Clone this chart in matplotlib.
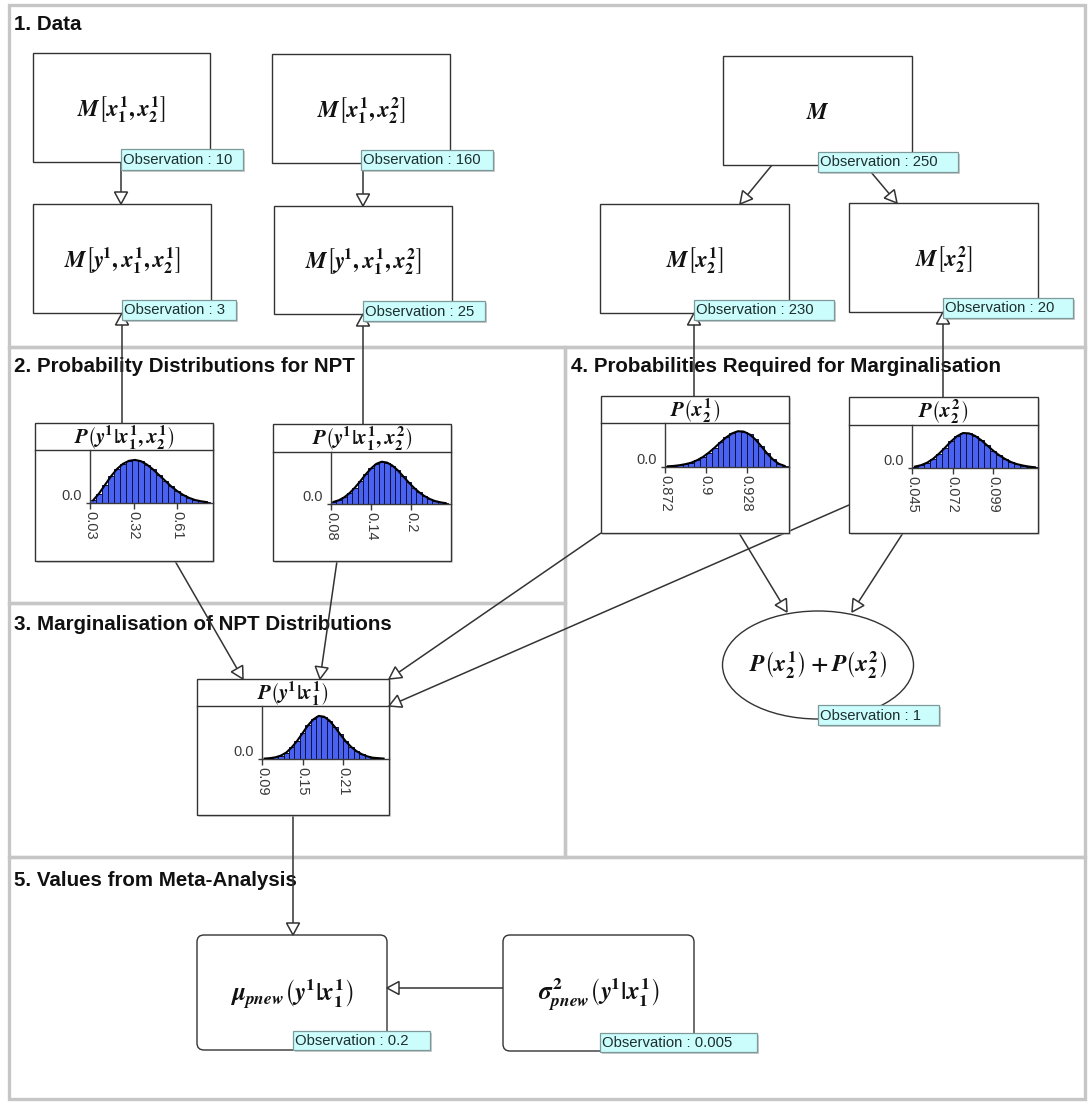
import matplotlib
matplotlib.use("Agg")
import matplotlib.pyplot as plt
from matplotlib.patches import Rectangle, FancyBboxPatch, Ellipse, Polygon
import math

# ---------------- data ----------------
section_titles = ["1. Data", "2. Probability Distributions for NPT",
                  "3. Marginalisation of NPT Distributions",
                  "4. Probabilities Required for Marginalisation",
                  "5. Values from Meta-Analysis"]

count_labels = [r"$M\left[x_1^1,x_2^1\right]$", r"$M\left[y^{\!1},x_1^1,x_2^1\right]$",
                r"$M\left[x_1^1,x_2^2\right]$", r"$M\left[y^{\!1},x_1^1,x_2^2\right]$",
                r"$M$", r"$M\left[x_2^1\right]$", r"$M\left[x_2^2\right]$"]
count_obs = ["10", "3", "160", "25", "250", "230", "20"]

dist_labels = [r"$P\left(y^{\!1}|x_1^1,x_2^1\right)$", r"$P\left(y^{\!1}|x_1^1,x_2^2\right)$",
               r"$P\left(x_2^1\right)$", r"$P\left(x_2^2\right)$",
               r"$P\left(y^{\!1}|x_1^1\right)$"]

sum_label = r"$P\left(x_2^1\right)+P\left(x_2^2\right)$"
sum_obs = "1"
meta_labels = [r"$\mu_{pnew}\left(y^{\!1}|x_1^1\right)$", r"$\sigma_{pnew}^2\left(y^{\!1}|x_1^1\right)$"]
meta_obs = ["0.2", "0.005"]

# distribution 1: P(y1 | x1^1, x2^1)
d1_centers = [0.05, 0.09, 0.13, 0.17, 0.21, 0.25, 0.29, 0.33, 0.37, 0.41, 0.45,
              0.49, 0.53, 0.57, 0.61, 0.65, 0.69, 0.73, 0.77, 0.81]
d1_heights = [0.06, 0.22, 0.42, 0.62, 0.79, 0.91, 0.98, 1.00, 0.97, 0.89, 0.78,
              0.65, 0.52, 0.39, 0.28, 0.19, 0.12, 0.07, 0.04, 0.02]
d1_ticks = [0.03, 0.32, 0.61]
d1_ticklabels = ["0.03", "0.32", "0.61"]
d1_xmax = 0.85

# distribution 2: P(y1 | x1^1, x2^2)
d2_centers = [0.084, 0.092, 0.100, 0.108, 0.116, 0.124, 0.132, 0.140, 0.148, 0.156, 0.164,
              0.172, 0.180, 0.188, 0.196, 0.204, 0.212, 0.220, 0.228, 0.236, 0.244, 0.252]
d2_heights = [0.05, 0.09, 0.16, 0.26, 0.39, 0.54, 0.70, 0.84, 0.95, 1.00, 0.98,
              0.91, 0.80, 0.66, 0.52, 0.39, 0.28, 0.19, 0.12, 0.07, 0.04, 0.02]
d2_ticks = [0.08, 0.14, 0.2]
d2_ticklabels = ["0.08", "0.14", "0.2"]
d2_xmax = 0.26

# distribution 3: P(x2^1)
d3_centers = [0.874, 0.878, 0.882, 0.886, 0.890, 0.894, 0.898, 0.902, 0.906, 0.910, 0.914,
              0.918, 0.922, 0.926, 0.930, 0.934, 0.938, 0.942, 0.946, 0.950, 0.954]
d3_heights = [0.02, 0.03, 0.05, 0.08, 0.12, 0.19, 0.28, 0.40, 0.54, 0.69, 0.83,
              0.94, 1.00, 0.99, 0.91, 0.77, 0.58, 0.38, 0.21, 0.09, 0.03]
d3_ticks = [0.872, 0.9, 0.928]
d3_ticklabels = ["0.872", "0.9", "0.928"]
d3_xmax = 0.957

# distribution 4: P(x2^2)
d4_centers = [0.047, 0.051, 0.055, 0.059, 0.063, 0.067, 0.071, 0.075, 0.079, 0.083, 0.087,
              0.091, 0.095, 0.099, 0.103, 0.107, 0.111, 0.115, 0.119, 0.123, 0.127]
d4_heights = [0.04, 0.08, 0.15, 0.26, 0.41, 0.58, 0.76, 0.91, 1.00, 0.99, 0.92,
              0.80, 0.65, 0.50, 0.37, 0.26, 0.17, 0.11, 0.07, 0.04, 0.02]
d4_ticks = [0.045, 0.072, 0.099]
d4_ticklabels = ["0.045", "0.072", "0.099"]
d4_xmax = 0.129

# distribution 5: P(y1 | x1^1)
d5_centers = [0.094, 0.102, 0.110, 0.118, 0.126, 0.134, 0.142, 0.150, 0.158, 0.166, 0.174,
              0.182, 0.190, 0.198, 0.206, 0.214, 0.222, 0.230, 0.238, 0.246, 0.254, 0.262, 0.270]
d5_heights = [0.01, 0.02, 0.04, 0.08, 0.15, 0.27, 0.42, 0.60, 0.78, 0.92, 1.00,
              0.98, 0.89, 0.74, 0.57, 0.41, 0.28, 0.18, 0.11, 0.06, 0.03, 0.02, 0.01]
d5_ticks = [0.09, 0.15, 0.21]
d5_ticklabels = ["0.09", "0.15", "0.21"]
d5_xmax = 0.278

# ---------------- layout (pixels) ----------------
W, H = 1089, 1102
panels = [(9, 5, 1085, 347), (9, 347, 565, 603), (9, 603, 565, 857),
          (565, 347, 1085, 857), (9, 857, 1085, 1099)]
title_pos = [(14, 25), (14, 367), (14, 624), (571, 367), (14, 880)]

count_boxes = [(33, 53, 210, 162), (33, 204, 211, 313), (272, 54, 450, 163),
               (274, 206, 452, 314), (723, 56, 912, 165), (600, 204, 789, 313),
               (849, 203, 1038, 312)]
count_obs_boxes = [(121, 149, 243, 170), (122, 300, 236, 320), (361, 150, 493, 170),
                   (363, 301, 485, 321), (818, 152, 958, 172), (694, 300, 834, 320),
                   (943, 298, 1073, 318)]
# x0, y0, x1, y1, title separator, axis x, baseline y
dist_boxes = [(35, 423, 213, 561, 450, 90, 503), (273, 424, 451, 561, 452, 331, 504),
              (601, 396, 789, 533, 423, 665, 467), (849, 397, 1038, 533, 425, 912, 468),
              (197, 679, 389, 815, 706, 262, 759)]
ellipse_geom = (818, 665, 191, 108)
ellipse_obs_box = (818, 705, 939, 725)
meta_boxes = [(197, 935, 387, 1050), (503, 935, 694, 1051)]
meta_obs_boxes = [(293, 1031, 430, 1050), (600, 1033, 757, 1052)]

arrows = [(121, 162, 121, 204), (363, 163, 363, 206), (772, 165, 740, 204),
          (865, 165, 897, 203), (122, 423, 122, 313), (363, 424, 363, 314),
          (694, 396, 694, 313), (943, 397, 943, 312), (175, 561, 243, 679),
          (337, 561, 320, 679), (601, 533, 389, 679), (849, 505, 389, 706),
          (739, 533, 787, 612), (903, 533, 852, 612), (293, 815, 293, 935),
          (503, 988, 387, 988)]

# ---------------- styles ----------------
plt.rcParams['font.family'] = ['Liberation Sans', 'DejaVu Sans']
plt.rcParams['mathtext.fontset'] = 'custom'
plt.rcParams['mathtext.it'] = 'STIXGeneral:italic:bold'
plt.rcParams['mathtext.rm'] = 'STIXGeneral:bold'
plt.rcParams['mathtext.bf'] = 'STIXGeneral:bold'
plt.rcParams['mathtext.fallback'] = 'stix'

LINE = '#333333'
PANEL = '#c6c6c6'
OBS_FILL = '#ccfdfd'
OBS_EDGE = '#7d9a9a'
BAR = '#4a62f2'

fig = plt.figure(figsize=(W / 100, H / 100), dpi=100)
ax = fig.add_axes([0, 0, 1, 1])
ax.set_xlim(0, W)
ax.set_ylim(H, 0)
ax.axis('off')

for (x0, y0, x1, y1) in panels:
    ax.add_patch(Rectangle((x0, y0), x1 - x0, y1 - y0, fill=False, ec=PANEL, lw=2.4, zorder=1))
for t, (x, y) in zip(section_titles, title_pos):
    ax.text(x, y, t, fontsize=14.8, fontweight='bold', color='#111111', ha='left', va='center', zorder=2)


def arrow(x0, y0, x1, y1, L=12, hw=6.5):
    dx, dy = x1 - x0, y1 - y0
    d = math.hypot(dx, dy)
    ux, uy = dx / d, dy / d
    bx, by = x1 - ux * L, y1 - uy * L
    ax.plot([x0, bx], [y0, by], color=LINE, lw=1.1, zorder=3, solid_capstyle='butt')
    px, py = -uy, ux
    ax.add_patch(Polygon([(x1, y1), (bx + px * hw, by + py * hw), (bx - px * hw, by - py * hw)],
                         closed=True, fc='white', ec=LINE, lw=1.1, zorder=6))


for a in arrows:
    arrow(*a)


def obs_label(box, value):
    x0, y0, x1, y1 = box
    ax.add_patch(Rectangle((x0 + 2, y0 + 2), x1 - x0, y1 - y0, fc='#9a9a9a', ec='none', alpha=0.5, zorder=7))
    ax.add_patch(Rectangle((x0, y0), x1 - x0, y1 - y0, fc=OBS_FILL, ec=OBS_EDGE, lw=0.9, zorder=8))
    ax.text(x0 + 2, (y0 + y1) / 2 + 0.5, "Observation : " + value, fontsize=10.7, color='#1e2e2e',
            ha='left', va='center', zorder=9)


for (x0, y0, x1, y1), lab in zip(count_boxes, count_labels):
    ax.add_patch(Rectangle((x0, y0), x1 - x0, y1 - y0, fc='white', ec=LINE, lw=1.0, zorder=4))
    ax.text((x0 + x1) / 2, (y0 + y1) / 2 + 2, lab, fontsize=16.5, ha='center', va='center', color='#111111', zorder=5)
for box, v in zip(count_obs_boxes, count_obs):
    obs_label(box, v)

dists = [(d1_centers, d1_heights, d1_ticks, d1_ticklabels, d1_xmax),
         (d2_centers, d2_heights, d2_ticks, d2_ticklabels, d2_xmax),
         (d3_centers, d3_heights, d3_ticks, d3_ticklabels, d3_xmax),
         (d4_centers, d4_heights, d4_ticks, d4_ticklabels, d4_xmax),
         (d5_centers, d5_heights, d5_ticks, d5_ticklabels, d5_xmax)]

for (x0, y0, x1, y1, sep, axx, base), lab, (cs, hs, tk, tkl, xmax) in zip(dist_boxes, dist_labels, dists):
    ax.add_patch(Rectangle((x0 + 2, y0 + 2), x1 - x0, y1 - y0, fc='#bbbbbb', ec='none', alpha=0.5, zorder=4))
    ax.add_patch(Rectangle((x0, y0), x1 - x0, y1 - y0, fc='white', ec=LINE, lw=1.0, zorder=4))
    ax.plot([x0, x1], [sep, sep], color=LINE, lw=1.0, zorder=5)
    ax.text((x0 + x1) / 2, (y0 + sep) / 2 + 1, lab, fontsize=15, ha='center', va='center', color='#111111', zorder=5)
    iax = fig.add_axes([axx / W, 1 - base / H, (x1 - axx) / W, (base - sep) / H])
    iax.patch.set_alpha(0)
    w = cs[1] - cs[0]
    iax.bar(cs, hs, width=w, color=BAR, edgecolor='#10103a', linewidth=0.7, align='center', zorder=2)
    iax.plot(cs, hs, color='black', lw=1.5, zorder=3)
    iax.set_xlim(tk[0], xmax)
    iax.set_ylim(0, 1.23)
    for s in ['top', 'right']:
        iax.spines[s].set_visible(False)
    for s in ['left', 'bottom']:
        iax.spines[s].set_color('#3a3a3a')
        iax.spines[s].set_linewidth(1.0)
    iax.set_xticks(tk)
    iax.set_xticklabels(tkl, rotation=270, fontsize=10.5, color='#3a3a3a')
    iax.set_yticks([0])
    iax.set_yticklabels(["0.0"], fontsize=10.5, color='#3a3a3a', va='bottom')
    iax.tick_params(axis='x', direction='out', length=4, width=1.0, color='#3a3a3a', pad=2)
    iax.tick_params(axis='y', direction='out', length=3, width=1.0, color='#3a3a3a', pad=3)

# ellipse node
cx, cy, ew, eh = ellipse_geom
ax.add_patch(Ellipse((cx, cy), ew, eh, fc='white', ec=LINE, lw=1.0, zorder=4))
ax.text(cx, cy, sum_label, fontsize=17, ha='center', va='center', color='#111111', zorder=5)
obs_label(ellipse_obs_box, sum_obs)

# meta-analysis nodes
for (x0, y0, x1, y1), lab in zip(meta_boxes, meta_labels):
    ax.add_patch(FancyBboxPatch((x0, y0), x1 - x0, y1 - y0, boxstyle="round,pad=0,rounding_size=7",
                                fc='white', ec=LINE, lw=1.0, zorder=4))
    ax.text((x0 + x1) / 2, (y0 + y1) / 2 + 2, lab, fontsize=18, ha='center', va='center', color='#111111', zorder=5)
for box, v in zip(meta_obs_boxes, meta_obs):
    obs_label(box, v)

fig.savefig("out.png", dpi=100)
